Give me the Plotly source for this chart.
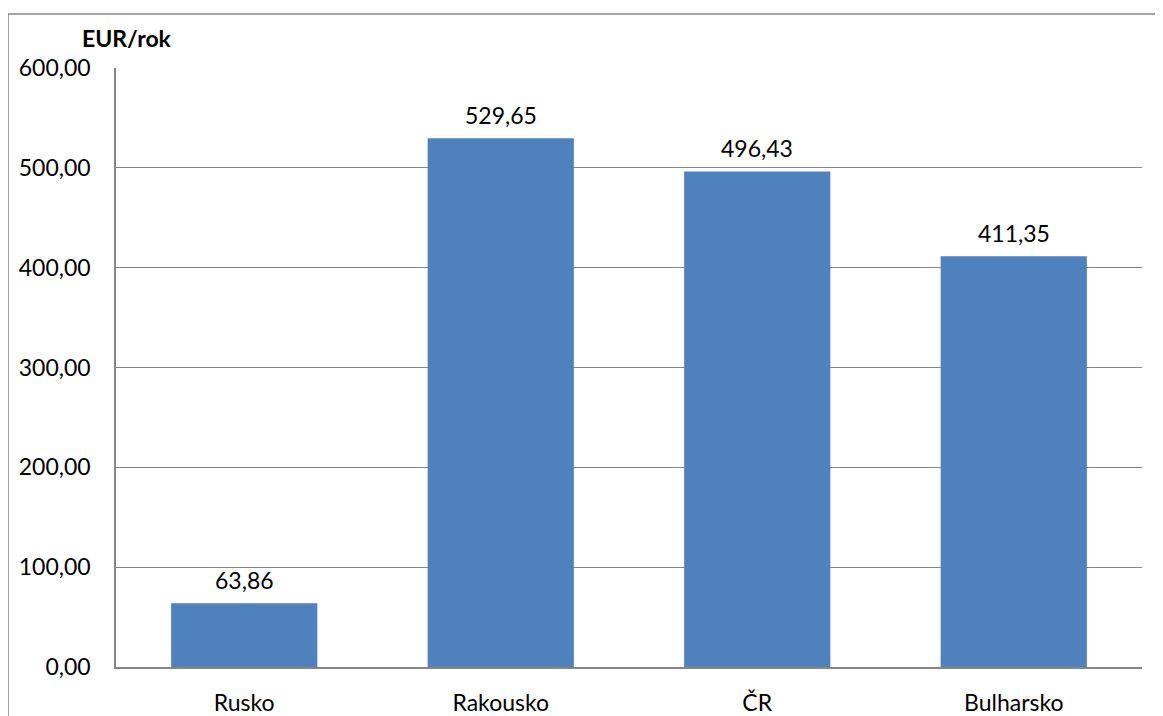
import plotly.graph_objects as go

categories = ["Rusko", "Rakousko", "ČR", "Bulharsko"]
values = [63.86, 529.65, 496.43, 411.35]
value_labels = ["63,86", "529,65", "496,43", "411,35"]
unit_label = "EUR/rok"

# page body adds an 8px offset; compensate so the picture lines up
OFF = 8
W, H = 1163 - OFF, 716 - OFF
L, R, T, B = 116 - OFF, 21, 68 - OFF, 49
pw, ph = W - L - R, H - T - B

def px_x(x):
    return (x - OFF - L) / pw

def px_y(y):
    return (H - B - (y - OFF)) / ph

FONT = "Lato, Open Sans, sans-serif"
GRAY = "#868686"

fig = go.Figure(go.Bar(
    x=categories, y=values,
    marker=dict(color="#4F81BD", line=dict(width=0)),
    hoverinfo="x+y",
))

annotations = [
    dict(x=c, y=v, xref="x", yref="y", text=t, showarrow=False,
         yanchor="bottom", yshift=7, font=dict(family=FONT, size=23, color="black"))
    for c, v, t in zip(categories, values, value_labels)
]
annotations.append(dict(text="<b>" + unit_label + "</b>", xref="paper", yref="paper",
                        x=px_x(80), y=px_y(38), xanchor="left", yanchor="middle",
                        showarrow=False, font=dict(size=23, family=FONT, color="black")))

fig.update_layout(
    width=W, height=H,
    margin=dict(l=L, r=R, t=T, b=B, autoexpand=False),
    paper_bgcolor="white", plot_bgcolor="white",
    separators=",.",
    bargap=0.43,
    showlegend=False,
    font=dict(family=FONT, size=23, color="black"),
    xaxis=dict(showgrid=False, showline=True, linecolor=GRAY, linewidth=1.5,
               ticks="", ticklabelstandoff=15, tickfont=dict(size=23),
               automargin=False),
    yaxis=dict(range=[0, 600], dtick=100, tickformat=".2f",
               showgrid=True, gridcolor=GRAY, gridwidth=1,
               showline=True, linecolor=GRAY, linewidth=1.5,
               zeroline=False, ticks="", ticklabelstandoff=19,
               tickfont=dict(size=23), automargin=False),
    annotations=annotations,
    shapes=[
        dict(type="line", xref="paper", yref="paper", x0=px_x(8), x1=px_x(1180),
             y0=px_y(14), y1=px_y(14), line=dict(color=GRAY, width=1.5)),
        dict(type="line", xref="paper", yref="paper", x0=px_x(8), x1=px_x(8),
             y0=px_y(14), y1=px_y(730), line=dict(color=GRAY, width=1.5)),
    ],
)

fig.write_html("out.html")
